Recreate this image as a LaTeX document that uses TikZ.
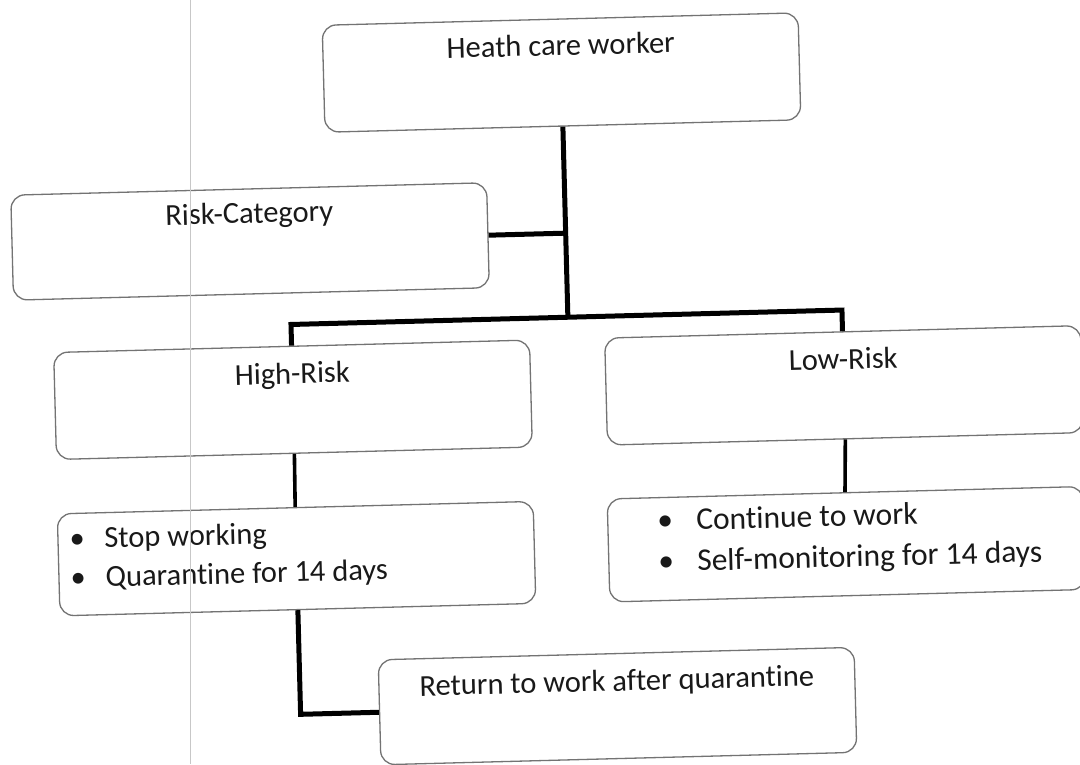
\documentclass[tikz,border=0pt]{standalone}
\usepackage{fontspec}
\setmainfont{Carlito}[Ligatures={NoCommon,NoContextual}]
\begin{document}
\begin{tikzpicture}[x=1pt,y=-1pt,
  box/.style={draw=black!55, line width=1.3pt, rounded corners=14pt, fill=white,
              minimum width=476pt, inner sep=0pt},
  lbl/.style={font=\fontsize{30.5}{36}\selectfont, text=black!90, inner sep=0pt},
  lblr/.style={font=\fontsize{31.5}{37}\selectfont, text=black!90, inner sep=0pt},
  conn/.style={line width=5pt, draw=black},
  thinconn/.style={line width=3.6pt, draw=black}]
\fill[white] (0,0) rectangle (1080,764);
\useasboundingbox (0,0) rectangle (1080,764);
\begin{scope}[rotate around={1.5:(540,382)}, transform shape]
  % boxes
  \node[box, minimum height=107pt] (heath) at (569.6,73.2) {};
  \node[box, minimum height=105pt] (risk)  at (253.8,233.9) {};
  \node[box, minimum height=107pt] (high)  at (292.6,393.3) {};
  \node[box, minimum height=107pt] (low)   at (843.8,393.3) {};
  \node[box, minimum height=102pt] (stop)  at (292,552.2) {};
  \node[box, minimum height=103pt] (cont)  at (842.1,552.2) {};
  \node[box, minimum height=105pt] (ret)   at (609,708) {};
  % bus coordinates
  \coordinate (busM) at (569.6,318);
  \coordinate (busL) at (292.6,318);
  \coordinate (busR) at (843.8,318);
  % connectors
  \draw[conn] (heath.south) -- (busM);
  \draw[conn] (high.north) -- (busL) -- (busR) -- (low.north);
  \draw[conn] (risk.east) -- (risk.east -| busM);
  \draw[thinconn] (high.south) -- (stop.north);
  \draw[thinconn] (low.south) -- (cont.north);
  \draw[conn] (stop.south) |- (ret.west);
  % labels
  \node[lbl, anchor=base] (heathT) at ([yshift=-37pt]heath.north) {Heath care worker};
  \node[lbl, anchor=base] (riskT)  at ([yshift=-35pt]risk.north) {Risk-Category};
  \node[lbl, anchor=base] (highT)  at ([yshift=-38pt]high.north) {High-Risk};
  \node[lbl, anchor=base] (lowT)   at ([yshift=-38pt]low.north) {Low-Risk};
  \node[lbl, anchor=base] (retT)   at ([yshift=-38pt]ret.north) {Return to work after quarantine};
  \node[lbl, anchor=base west] (stop1) at ([xshift=12pt,yshift=-36pt]stop.north west)
     {\makebox[35pt][l]{\textbullet}Stop working};
  \node[lbl, anchor=base west] (stop2) at ([xshift=12pt,yshift=-75pt]stop.north west)
     {\makebox[35pt][l]{\textbullet}Quarantine for 14 days};
  \node[lblr, anchor=base west] (cont1) at ([xshift=50pt,yshift=-34pt]cont.north west)
     {\makebox[39pt][l]{\textbullet}Continue to work};
  \node[lblr, anchor=base west] (cont2) at ([xshift=50pt,yshift=-75pt]cont.north west)
     {\makebox[39pt][l]{\textbullet}Self-monitoring for 14 days};
\end{scope}
% faint page-margin line of the scan
\draw[black!22, line width=1pt] (190,0) -- (190,764);
\end{tikzpicture}
\end{document}
